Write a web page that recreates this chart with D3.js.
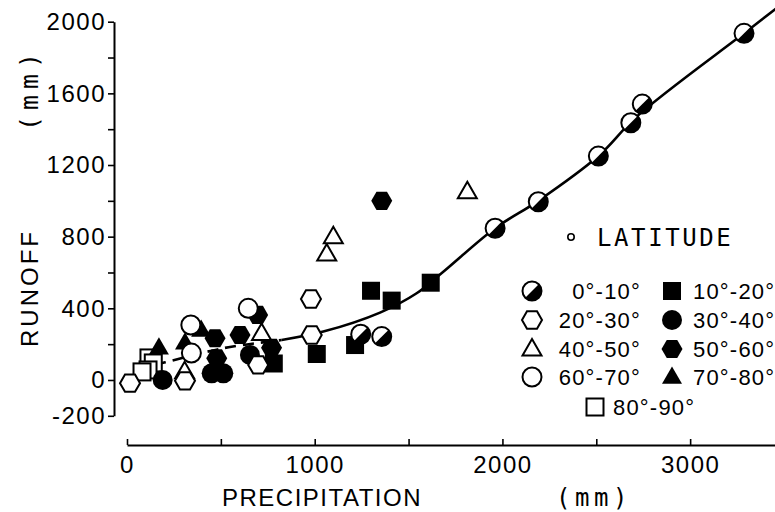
<!DOCTYPE html>
<html>
<head>
<meta charset="utf-8">
<script src="https://cdn.jsdelivr.net/npm/d3@7"></script>
<style>
  html, body { margin: 0; padding: 0; background: #fff; }
  svg { display: block; }
  .sans { font-family: "Liberation Sans", Arial, sans-serif; }
  .mono { font-family: "DejaVu Sans Mono", "Liberation Mono", monospace; }
</style>
</head>
<body>
<div id="chart"></div>
<script>
// ---- data (precipitation mm, runoff mm) ----
const lat0_10   = [[1245,255],[1357,242],[1961,847],[2191,995],[2511,1250],[2684,1436],[2745,1540],[3287,1935]];
const lat10_20  = [[782,92],[1011,145],[1215,195],[1300,498],[1410,443],[1618,543]];
const lat20_30  = [[16,-18],[309,-5],[699,84],[984,251],[980,452]];
const lat30_40  = [[190,0],[451,37],[513,37],[655,140]];
const lat40_50  = [[307,46],[717,260],[1064,703],[1099,800],[1813,1051]];
const lat50_60  = [[469,233],[478,121],[602,251],[696,363],[770,180],[1357,1000]];
const lat60_70  = [[340,307],[343,150],[646,400]];
const lat70_80  = [[170,180],[309,208],[395,279]];
const lat80_90  = [[117,123],[140,95],[112,56],[80,45]];
const fitCurve  = [[150,85],[218,102],[511,177],[824,223],[1046,270],[1348,376],[1543,484],[1685,604],[1961,847],[2191,1000],[2511,1250],[2715,1470],[3287,1935],[3460,2075]];
const dashedUntil = 1000;
const yTicks = [-200,0,200,400,600,800,1000,1200,1400,1600,1800,2000];
const yLabels = [-200,0,400,800,1200,1600,2000];
const xTicks = [0,500,1000,1500,2000,2500,3000,3500];
const xLabels = [0,1000,2000,3000];
const legendItems = [
  {label:"0°-10°",  shape:"half"},    {label:"10°-20°", shape:"fsquare"},
  {label:"20°-30°", shape:"ohex"},    {label:"30°-40°", shape:"fcircle"},
  {label:"40°-50°", shape:"otri"},    {label:"50°-60°", shape:"fhex"},
  {label:"60°-70°", shape:"ocircle"}, {label:"70°-80°", shape:"ftri"},
  {label:"80°-90°", shape:"osquare"}
];

const W = 775, H = 512;
const svg = d3.select("#chart").append("svg").attr("width", W).attr("height", H);

const x = d3.scaleLinear().domain([0, 3500]).range([127, 784]);
const y = d3.scaleLinear().domain([-200, 2000]).range([415.8, 21.7]);

// ---- axes ----
const yAxis = d3.axisLeft(y).tickValues(yTicks).tickSizeInner(6).tickSizeOuter(0).tickPadding(4)
  .tickFormat(d => yLabels.includes(d) ? String(d) : "");
const gy = svg.append("g").attr("transform", "translate(114,0)").call(yAxis);
gy.select(".domain").attr("stroke", "#000").attr("stroke-width", 2);
gy.selectAll(".tick line").attr("stroke", "#000").attr("stroke-width", 1.6);
gy.selectAll(".tick text").attr("class", "sans").attr("font-size", 24).attr("fill", "#000")
  .attr("letter-spacing", 1.5).attr("dx", 2);

const xAxis = d3.axisBottom(x).tickValues(xTicks).tickSizeInner(-6).tickSizeOuter(0).tickPadding(11)
  .tickFormat(d => xLabels.includes(d) ? String(d) : "");
const gx = svg.append("g").attr("transform", "translate(0,445)").call(xAxis);
gx.select(".domain").attr("stroke", "#000").attr("stroke-width", 2);
gx.selectAll(".tick line").attr("stroke", "#000").attr("stroke-width", 1.6);
gx.selectAll(".tick text").attr("class", "sans").attr("font-size", 24).attr("fill", "#000")
  .attr("letter-spacing", 1.5);

// axis titles
svg.append("text").attr("class", "sans").attr("font-size", 24).attr("letter-spacing", 3)
  .attr("text-anchor", "middle").attr("transform", "translate(38,288) rotate(-90)").text("RUNOFF");
svg.append("text").attr("class", "mono").attr("font-size", 25).attr("letter-spacing", 6)
  .attr("text-anchor", "middle").attr("transform", "translate(38,89) rotate(-90)").text("(mm)");
svg.append("text").attr("class", "sans").attr("font-size", 24).attr("letter-spacing", 1.5)
  .attr("text-anchor", "middle").attr("x", 322).attr("y", 506).text("PRECIPITATION");
svg.append("text").attr("class", "mono").attr("font-size", 24).attr("letter-spacing", 4.5)
  .attr("text-anchor", "middle").attr("x", 594).attr("y", 506).text("(mm)");

// ---- fitted curve ----
const line = d3.line().x(d => x(d[0])).y(d => y(d[1])).curve(d3.curveCatmullRom.alpha(0.5));
const dashedPart = fitCurve.filter(d => d[0] <= dashedUntil);
const solidPart = fitCurve.filter(d => d[0] >= dashedPart[dashedPart.length-1][0]);
svg.append("path").attr("d", line(dashedPart)).attr("fill", "none").attr("stroke", "#000")
  .attr("stroke-width", 2.6).attr("stroke-dasharray", "11,7");
svg.append("path").attr("d", line(solidPart)).attr("fill", "none").attr("stroke", "#000")
  .attr("stroke-width", 2.6);

// ---- marker drawing ----
const R = 9.5;
function hexPath(r) {
  const pts = d3.range(6).map(i => [r*Math.cos(i*Math.PI/3), r*Math.sin(i*Math.PI/3)]);
  return "M" + pts.map(p => p.join(",")).join("L") + "Z";
}
function triPath(s) {
  const h = s*Math.sqrt(3)/2;
  return `M0,${-2*h/3}L${s/2},${h/3}L${-s/2},${h/3}Z`;
}
function drawMarker(g, shape, cx, cy) {
  const m = g.append("g").attr("transform", `translate(${cx},${cy})`);
  const sw = 2;
  switch (shape) {
    case "half": {
      m.append("circle").attr("r", R).attr("fill", "#fff").attr("stroke", "#000").attr("stroke-width", sw);
      const k = R/Math.SQRT2;
      m.append("path").attr("d", `M${k},${-k}A${R},${R} 0 0 1 ${-k},${k}Z`).attr("fill", "#000");
      break;
    }
    case "fsquare":
      m.append("rect").attr("x", -9).attr("y", -9).attr("width", 18).attr("height", 18).attr("fill", "#000"); break;
    case "osquare":
      m.append("rect").attr("x", -8.5).attr("y", -8.5).attr("width", 17).attr("height", 17)
        .attr("fill", "#fff").attr("stroke", "#000").attr("stroke-width", sw); break;
    case "fcircle":
      m.append("circle").attr("r", R+0.5).attr("fill", "#000"); break;
    case "ocircle":
      m.append("circle").attr("r", R).attr("fill", "#fff").attr("stroke", "#000").attr("stroke-width", sw); break;
    case "fhex":
      m.append("path").attr("d", hexPath(10.5)).attr("fill", "#000"); break;
    case "ohex":
      m.append("path").attr("d", hexPath(10)).attr("fill", "#fff").attr("stroke", "#000").attr("stroke-width", sw); break;
    case "ftri":
      m.append("path").attr("d", triPath(20)).attr("fill", "#000").attr("transform", "translate(0,1)"); break;
    case "otri":
      m.append("path").attr("d", triPath(19)).attr("fill", "#fff").attr("stroke", "#000")
        .attr("stroke-width", sw).attr("transform", "translate(0,1)"); break;
  }
}

const series = [
  {data: lat80_90, shape: "osquare"},
  {data: lat70_80, shape: "ftri"},
  {data: lat30_40, shape: "fcircle"},
  {data: lat50_60, shape: "fhex"},
  {data: lat10_20, shape: "fsquare"},
  {data: lat60_70, shape: "ocircle"},
  {data: lat40_50, shape: "otri"},
  {data: lat20_30, shape: "ohex"},
  {data: lat0_10,  shape: "half"}
];
const gm = svg.append("g");
series.forEach(s => s.data.forEach(d => drawMarker(gm, s.shape, x(d[0]), y(d[1]))));

// ---- legend ----
const lg = svg.append("g");
lg.append("circle").attr("cx", 571).attr("cy", 237).attr("r", 3.2).attr("fill", "none")
  .attr("stroke", "#000").attr("stroke-width", 1.6);
lg.append("text").attr("class", "mono").attr("font-size", 24).attr("letter-spacing", 2.6)
  .attr("x", 597).attr("y", 246).text("LATITUDE");
const rowsY = [291, 320, 349, 377];
legendItems.forEach((it, i) => {
  if (i < 8) {
    const col = i % 2, row = Math.floor(i / 2);
    const sx = col === 0 ? 532 : 672;
    drawMarker(lg, it.shape, sx, rowsY[row]);
    const t = lg.append("text").attr("class", "sans").attr("font-size", 22).attr("letter-spacing", 1.2)
      .attr("y", rowsY[row] + 8).text(it.label);
    if (col === 0) t.attr("x", 641).attr("text-anchor", "end");
    else t.attr("x", 693);
  } else {
    drawMarker(lg, it.shape, 595, 407);
    lg.append("text").attr("class", "sans").attr("font-size", 22).attr("letter-spacing", 1.2)
      .attr("x", 613).attr("y", 415).text(it.label);
  }
});
</script>
</body>
</html>
